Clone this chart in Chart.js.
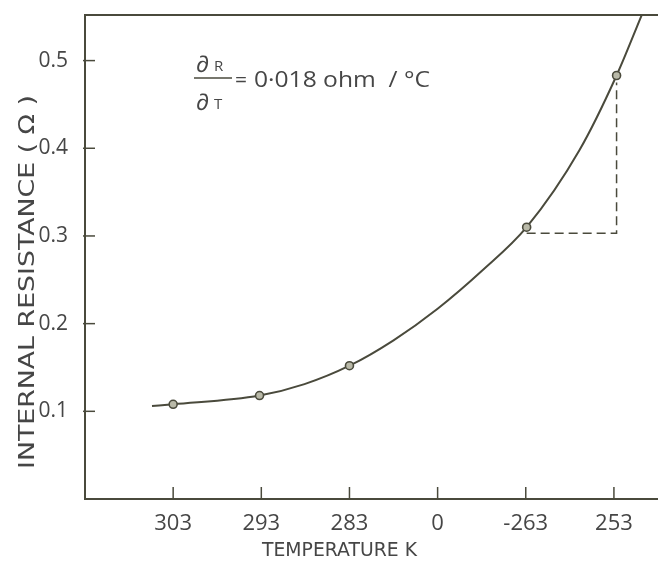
<!DOCTYPE html>
<html>
<head>
<meta charset="utf-8">
<script src="https://cdn.jsdelivr.net/npm/chart.js@4.4.1/dist/chart.umd.min.js"></script>
<style>
html,body{margin:0;padding:0;background:#fff;}
#wrap{width:658px;height:563px;position:relative;}
</style>
</head>
<body>
<div id="wrap"><canvas id="c" width="658" height="563"></canvas></div>
<script>
// Tick labels (positions 0..5 on the x scale)
const tempLabels = ["303", "293", "283", "0", "-263", "253"];
const tempIndex = [0, 1, 2, 3, 4, 5];
const resTicks = [0.1, 0.2, 0.3, 0.4, 0.5];
const xTitle = "TEMPERATURE K";
const yTitle = "INTERNAL RESISTANCE ( \u03a9 )";

// Measured points
const pointX = [0, 0.98, 2, 4.01, 5.03];
const pointY = [0.108, 0.118, 0.152, 0.310, 0.483];

// Hand-drawn curve through the points
const curveX = [-0.24, 0, 0.98, 1.49, 2, 2.5, 3.0, 3.5, 4.01, 4.61, 5.03, 5.32];
const curveY = [0.106, 0.108, 0.118, 0.131, 0.152, 0.181, 0.217, 0.260, 0.310, 0.398, 0.483, 0.553];

// Dashed slope triangle
const dashX = [4.01, 5.03, 5.03];
const dashY = [0.303, 0.303, 0.475];

const ink = '#4a4a3c';
const textInk = '#464646';
const fontFam = "'Open Sans', 'DejaVu Sans', sans-serif";
const titleFam = "'DejaVu Sans', sans-serif";

const toXY = (xs, ys) => xs.map((x, i) => ({x: x, y: ys[i]}));

// draw text horizontally stretched/compressed to a target width, starting at x
function fitText(ctx, text, x, y, targetWidth) {
  const w0 = ctx.measureText(text).width;
  const sx = w0 > 0 ? targetWidth / w0 : 1;
  ctx.save();
  ctx.translate(x, y);
  ctx.scale(sx, 1);
  ctx.textAlign = 'left';
  ctx.fillText(text, 0, 0);
  ctx.restore();
}

const extras = {
  id: 'extras',
  afterDraw(chart) {
    const ctx = chart.ctx;
    const xs = chart.scales.x, ys = chart.scales.y;
    const a = chart.chartArea;
    ctx.save();
    ctx.strokeStyle = ink;
    ctx.lineWidth = 2;
    // top frame line
    ctx.beginPath();
    ctx.moveTo(a.left, a.top);
    ctx.lineTo(chart.width, a.top);
    ctx.stroke();
    // inside tick marks
    ctx.lineWidth = 1.5;
    tempIndex.forEach(v => {
      const px = xs.getPixelForValue(v);
      ctx.beginPath();
      ctx.moveTo(px, a.bottom);
      ctx.lineTo(px, a.bottom - 12);
      ctx.stroke();
    });
    resTicks.forEach(v => {
      const py = ys.getPixelForValue(v);
      ctx.beginPath();
      ctx.moveTo(a.left - 2, py);
      ctx.lineTo(a.left + 10, py);
      ctx.stroke();
    });
    // axis titles
    ctx.fillStyle = textInk;
    ctx.textBaseline = 'middle';
    ctx.font = "19px " + titleFam;
    fitText(ctx, xTitle, 262, 551, 155);
    ctx.save();
    ctx.translate(28, 282);
    ctx.rotate(-Math.PI / 2);
    ctx.font = "22px " + titleFam;
    fitText(ctx, yTitle, -187, 0, 374);
    ctx.restore();
    // annotation dR/dT = 0.018 ohm / °C
    ctx.textBaseline = 'alphabetic';
    ctx.textAlign = 'left';
    ctx.font = "23px " + fontFam;
    ctx.fillText('\u2202', 196, 72);
    ctx.fillText('\u2202', 196, 110);
    ctx.font = "15px " + fontFam;
    ctx.fillText('R', 214, 71);
    ctx.fillText('T', 214, 109);
    ctx.beginPath();
    ctx.lineWidth = 1.4;
    ctx.moveTo(194, 78);
    ctx.lineTo(232, 78);
    ctx.stroke();
    ctx.font = "21px " + fontFam;
    ctx.fillText('=', 235, 87);
    fitText(ctx, '0\u00b7018 ohm  / \u00b0C', 254, 87, 176);
    ctx.restore();
  }
};

new Chart(document.getElementById('c'), {
  type: 'scatter',
  data: {
    datasets: [
      {
        label: 'curve',
        data: toXY(curveX, curveY),
        showLine: true,
        borderColor: ink,
        borderWidth: 2,
        pointRadius: 0,
        cubicInterpolationMode: 'monotone',
        order: 2
      },
      {
        label: 'points',
        data: toXY(pointX, pointY),
        showLine: false,
        pointRadius: 4,
        pointBorderWidth: 1.6,
        pointBorderColor: ink,
        pointBackgroundColor: '#b9b9a8',
        order: 1
      },
      {
        label: 'slope',
        data: toXY(dashX, dashY),
        showLine: true,
        borderColor: ink,
        borderWidth: 1.5,
        borderDash: [9, 5],
        pointRadius: 0,
        tension: 0,
        order: 3
      }
    ]
  },
  options: {
    responsive: false,
    animation: false,
    layout: {autoPadding: false, padding: {top: 15, right: 0, left: 0, bottom: 0}},
    plugins: {legend: {display: false}, tooltip: {enabled: false}},
    scales: {
      x: {
        type: 'linear',
        min: -1,
        max: 5.5,
        afterBuildTicks: s => { s.ticks = tempIndex.map(v => ({value: v})); },
        afterFit: s => { s.height = 64; s.paddingLeft = 0; s.paddingRight = 0; },
        grid: {display: false},
        border: {display: true, color: ink, width: 2},
        ticks: {
          color: textInk,
          padding: 4,
          font: {family: fontFam, size: 22},
          callback: (v) => tempLabels[tempIndex.indexOf(v)] ?? ''
        },
        title: {display: false}
      },
      y: {
        type: 'linear',
        min: 0,
        max: 0.552,
        afterBuildTicks: s => { s.ticks = resTicks.map(v => ({value: v})); },
        afterFit: s => { s.width = 85; s.paddingTop = 0; s.paddingBottom = 0; },
        grid: {display: false},
        border: {display: true, color: ink, width: 2},
        ticks: {
          color: textInk,
          padding: 9,
          font: {family: fontFam, size: 21},
          callback: v => v.toFixed(1)
        },
        title: {display: false}
      }
    }
  },
  plugins: [extras]
});
</script>
</body>
</html>
